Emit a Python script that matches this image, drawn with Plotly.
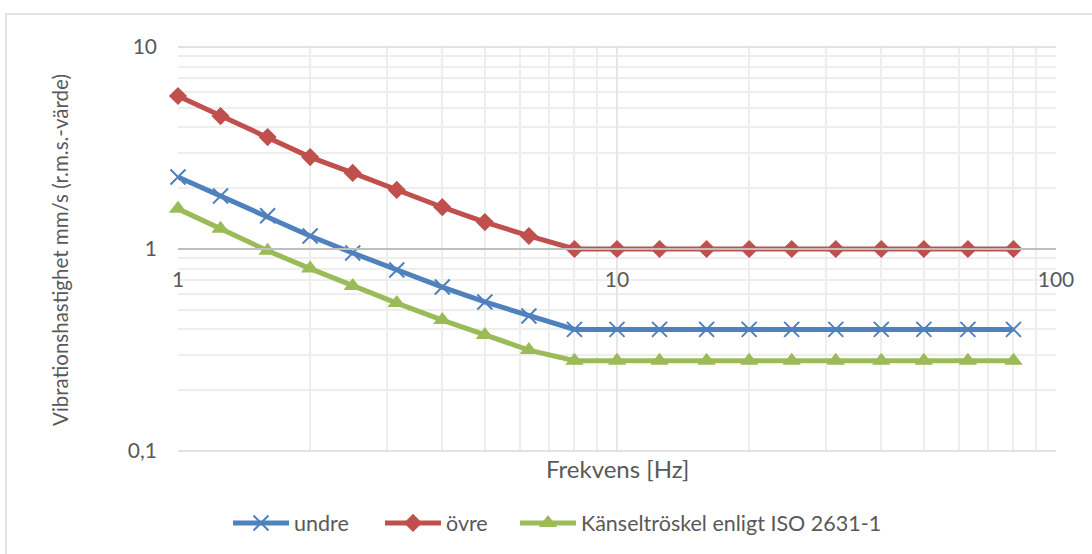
import plotly.graph_objects as go

freq = [1, 1.25, 1.6, 2, 2.5, 3.15, 4, 5, 6.3, 8, 10, 12.5, 16, 20, 25, 31.5, 40, 50, 63, 80]
undre = [2.27, 1.83, 1.46, 1.16, 0.955, 0.787, 0.648, 0.547, 0.466, 0.40,
         0.40, 0.40, 0.40, 0.40, 0.40, 0.40, 0.40, 0.40, 0.40, 0.40]
ovre = [5.72, 4.55, 3.58, 2.85, 2.38, 1.96, 1.61, 1.36, 1.16, 1.0,
        1.0, 1.0, 1.0, 1.0, 1.0, 1.0, 1.0, 1.0, 1.0, 1.0]
kansel = [1.58, 1.26, 0.98, 0.80, 0.656, 0.54, 0.445, 0.375, 0.316, 0.28,
          0.28, 0.28, 0.28, 0.28, 0.28, 0.28, 0.28, 0.28, 0.28, 0.28]

x_ticks = [1, 10, 100]
x_ticktext = ["1", "10", "100"]
y_ticks = [0.1, 1, 10]
y_ticktext = ["0,1", "1", "10"]

FONT = "Lato, 'Open Sans', sans-serif"
GRAY = "#595959"
L, R, T, B = 178, 36, 47, 103
PW, PH = 1092 - L - R, 554 - T - B


def px_x(p):
    return (p - L) / PW


def px_y(p):
    return (554 - B - p) / PH


fig = go.Figure()
fig.add_trace(go.Scatter(x=freq, y=undre, name="undre", mode="lines+markers", legend="legend",
                         cliponaxis=False,
                         line=dict(color="#4F81BD", width=5),
                         marker=dict(symbol="x-thin", size=15, line=dict(color="#4F81BD", width=2))))
fig.add_trace(go.Scatter(x=freq, y=ovre, name="övre", mode="lines+markers", legend="legend2",
                         cliponaxis=False,
                         line=dict(color="#C0504D", width=5),
                         marker=dict(symbol="diamond", size=14, color="#C0504D")))
fig.add_trace(go.Scatter(x=freq, y=kansel, name="Känseltröskel enligt ISO 2631-1", mode="lines+markers",
                         legend="legend3", cliponaxis=False,
                         line=dict(color="#9BBB59", width=5),
                         marker=dict(symbol="triangle-up", size=16, color="#9BBB59")))

leg_common = dict(orientation="h", xanchor="left", y=px_y(523), yanchor="middle",
                  font=dict(size=21.5, color=GRAY), itemwidth=56, bgcolor="rgba(0,0,0,0)")

fig.update_layout(
    width=1092, height=554,
    margin=dict(l=L, r=R, t=T, b=B, autoexpand=False),
    paper_bgcolor="white", plot_bgcolor="white",
    font=dict(family=FONT, color=GRAY, size=20),
    showlegend=True,
    legend=dict(x=px_x(233 - 5), **leg_common),
    legend2=dict(x=px_x(385 - 5), **leg_common),
    legend3=dict(x=px_x(520 - 5), **leg_common),
    xaxis=dict(type="log", range=[0, 2], tickvals=x_ticks, ticktext=x_ticktext,
               anchor="free", position=0.5, showline=True, linecolor="#bfbfbf", linewidth=1.5,
               ticks="", showgrid=True, gridcolor="#e6e6e6", gridwidth=1.5, zeroline=False,
               tickfont=dict(size=21, color=GRAY), ticklabelstandoff=12, automargin=False,
               minor=dict(showgrid=True, gridcolor="#eeeeee", gridwidth=1.5, dtick="D1")),
    yaxis=dict(type="log", range=[-1, 1], tickvals=y_ticks, ticktext=y_ticktext,
               ticks="", showgrid=True, gridcolor="#e6e6e6", gridwidth=1.5, zeroline=False,
               showline=False, tickfont=dict(size=21, color=GRAY), ticklabelstandoff=20,
               automargin=False,
               minor=dict(showgrid=True, gridcolor="#eeeeee", gridwidth=1.5, dtick="D1")),
    shapes=[
        dict(type="line", xref="paper", yref="paper", x0=0, x1=1, y0=0, y1=0,
             line=dict(color="#d9d9d9", width=1.5)),
        dict(type="line", xref="paper", yref="paper", x0=0, x1=1, y0=1, y1=1,
             line=dict(color="#d9d9d9", width=1.5)),
        dict(type="rect", xref="paper", yref="paper", x0=px_x(6), x1=px_x(1100), y0=px_y(570), y1=px_y(14),
             line=dict(color="#d9d9d9", width=1.5), layer="below"),
    ],
    annotations=[
        dict(text="Frekvens [Hz]", xref="paper", yref="paper", x=px_x(617), y=px_y(468),
             showarrow=False, font=dict(size=24, color=GRAY), xanchor="center", yanchor="middle"),
        dict(text="Vibrationshastighet mm/s (r.m.s.-värde)", xref="paper", yref="paper",
             x=px_x(60), y=px_y(250), textangle=-90, showarrow=False,
             font=dict(size=20.5, color=GRAY), xanchor="center", yanchor="middle"),
    ],
)

fig.write_html("out.html", config={"displayModeBar": False},
               post_script="document.body.style.margin='0';")
